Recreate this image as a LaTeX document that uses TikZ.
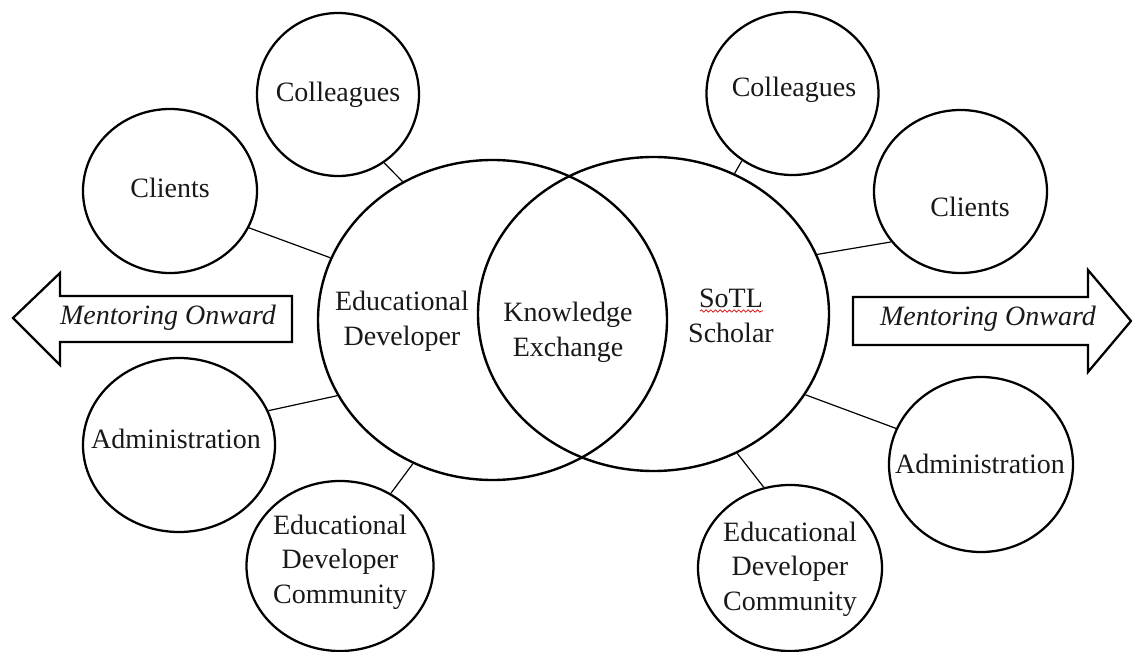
\documentclass[tikz,border=0pt]{standalone}
\usepackage{fontspec}
\setmainfont{Liberation Serif}
\usetikzlibrary{shapes.geometric,decorations.pathmorphing}
\begin{document}
\begin{tikzpicture}[x=0.75pt,y=-0.75pt,
  big/.style={ellipse,draw,line width=1.8pt,inner sep=0pt},
  sat/.style={ellipse,draw,line width=1.7pt,inner sep=0pt},
  txt/.style={align=center,font=\fontsize{21}{26}\selectfont,inner sep=0pt,text=black!90},
  itxt/.style={font=\fontsize{21}{26}\selectfont\itshape,inner sep=0pt,text=black!90},
  link/.style={line width=0.9pt},
  arrowbox/.style={draw,line width=1.7pt,line join=miter}]
\useasboundingbox[fill=white] (0,0) rectangle (1132,652);

% central ellipses
\node[big,minimum width=261.75pt,minimum height=240pt] (L) at (492.5,320) {};
\node[big,minimum width=263.25pt,minimum height=235.5pt] (R) at (653.5,314) {};
\node[txt] (Lt) at (402,321) {Educational\\Developer};
\node[txt] (Kt) at (568,332) {Knowledge\\Exchange};
\node[txt] (Rt) at (731,316) {SoTL\\Scholar};
\coordinate (sq1) at (700,311);
\coordinate (sq2) at (763,311);
\draw[red!85!black,line width=0.5pt,decorate,decoration={snake,amplitude=0.9pt,segment length=3.5pt}] (sq1) -- (sq2);

% left satellites
\node[sat,minimum width=121.5pt,minimum height=122.25pt] (lcol) at (338,94.5) {};
\node[txt] (lcolt) at (lcol) {Colleagues};
\node[sat,minimum width=130.5pt,minimum height=123pt] (lcli) at (170,191) {};
\node[txt] (lclit) at (170,188) {Clients};
\node[sat,minimum width=144pt,minimum height=130.5pt] (ladm) at (179,445) {};
\node[txt] (ladmt) at (176,439) {Administration};
\node[sat,minimum width=140.25pt,minimum height=127.5pt] (ledc) at (340,566) {};
\node[txt] (ledct) at (340,562) {Educational\\Developer\\Community};

% right satellites
\node[sat,minimum width=129pt,minimum height=122.25pt] (rcol) at (792.5,93.5) {};
\node[txt] (rcolt) at (794,90) {Colleagues};
\node[sat,minimum width=129.75pt,minimum height=122.25pt] (rcli) at (960.5,191.5) {};
\node[txt] (rclit) at (970,207) {Clients};
\node[sat,minimum width=138pt,minimum height=131.25pt] (radm) at (981,464.5) {};
\node[txt] (radmt) at (980,464) {Administration};
\node[sat,minimum width=138pt,minimum height=124.5pt] (redc) at (790,568) {};
\node[txt] (redct) at (790,569) {Educational\\Developer\\Community};

% connectors
\draw[link] (L.123.1) -- (lcol.304.8);
\draw[link] (L.159.2) -- (lcli.335.9);
\draw[link] (L.206.2) -- (ladm.21.8);
\draw[link] (L.241.9) -- (ledc.55.1);
\draw[link] (R.60.5) -- (rcol.233.8);
\draw[link] (R.20.1) -- (rcli.216);
\draw[link] (R.332.2) -- (radm.157.1);
\draw[link] (R.301.3) -- (redc.108.2);

% arrows
\draw[arrowbox] (13,318) -- (60,273) -- (60,296) -- (292,296) -- (292,342) -- (60,342) -- (60,365) -- cycle;
\node[itxt] (lmt) at (168,318) {Mentoring Onward};
\draw[arrowbox] (853,297) -- (1088,297) -- (1088,270) -- (1131,321) -- (1088,372) -- (1088,345) -- (853,345) -- cycle;
\node[itxt] (rmt) at (988,319) {Mentoring Onward};
\end{tikzpicture}
\end{document}
